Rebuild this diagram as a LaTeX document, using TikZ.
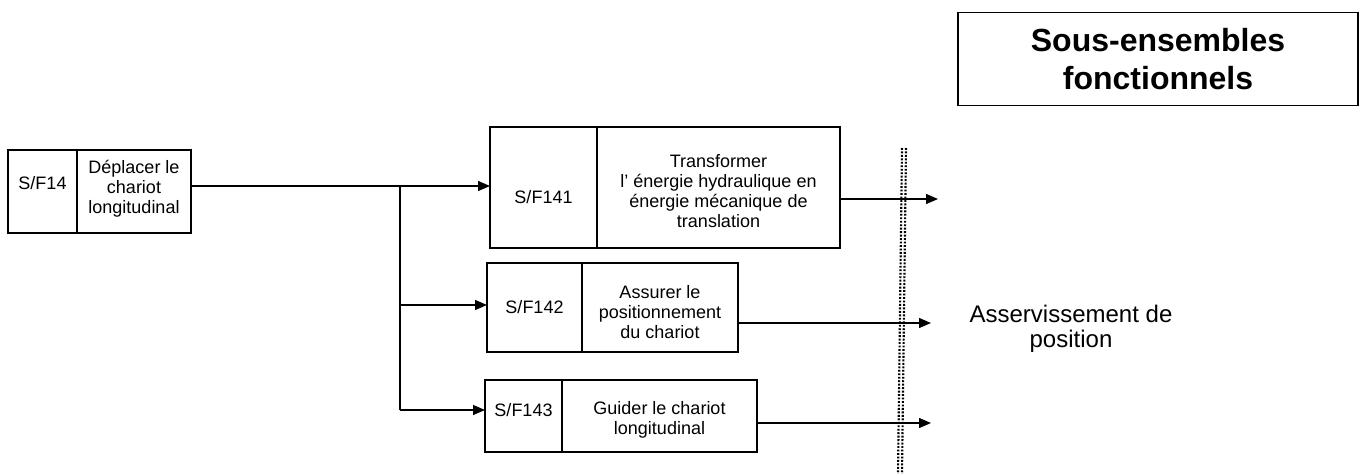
\documentclass[tikz,border=0pt]{standalone}
\usepackage{fontspec}
\setmainfont{Liberation Sans}
\usetikzlibrary{arrows.meta}
\begin{document}
\begin{tikzpicture}[x=0.75pt,y=-0.75pt,
  boxpart/.style={draw,line width=1.4pt,inner sep=0pt,outer sep=0pt,anchor=north west},
  boxtext/.style={align=center,inner sep=0pt,font=\fontsize{13.5}{15}\selectfont},
  conn/.style={line width=1pt},
  arr/.style={line width=1pt,-{Triangle[length=9pt,width=7.5pt]}},
  dotline/.style={line width=1.6pt,dash pattern=on 1.4pt off 1.2pt},
  txt/.style={align=center,inner sep=0pt}]
\useasboundingbox (0,0) rectangle (1362,474);
% S/F14
\node[boxpart,minimum width=51.75pt,minimum height=62.25pt] (b0l) at (8,150) {};
\node[boxpart,minimum width=85.5pt,minimum height=62.25pt] (b0t) at (77,150) {};
\node[boxtext,yshift=6pt] (t0l) at (b0l.center) {S/F14};
\node[boxtext,yshift=2pt] (t0t) at (b0t.center) {Déplacer le\\chariot\\longitudinal};
% S/F141
\node[boxpart,minimum width=80.25pt,minimum height=90.75pt] (b1l) at (490,127) {};
\node[boxpart,minimum width=182.25pt,minimum height=90.75pt] (b1t) at (597,127) {};
\node[boxtext,yshift=-7.5pt] (t1l) at (b1l.center) {S/F141};
\node[boxtext,yshift=-3pt] (t1t) at (b1t.center) {Transformer\\l' énergie hydraulique en\\énergie mécanique de\\translation};
% S/F142
\node[boxpart,minimum width=71.25pt,minimum height=66.75pt] (b2l) at (487,263) {};
\node[boxpart,minimum width=117pt,minimum height=66.75pt] (b2t) at (582,263) {};
\node[boxtext] (t2l) at (b2l.center) {S/F142};
\node[boxtext,yshift=-3.5pt] (t2t) at (b2t.center) {Assurer le\\positionnement\\du chariot};
% S/F143
\node[boxpart,minimum width=57.75pt,minimum height=54pt] (b3l) at (485,380) {};
\node[boxpart,minimum width=146.25pt,minimum height=54pt] (b3t) at (562,380) {};
\node[boxtext,yshift=4.5pt] (t3l) at (b3l.center) {S/F143};
\node[boxtext,yshift=-3pt] (t3t) at (b3t.center) {Guider le chariot\\longitudinal};
% title
\node[draw,line width=1pt,minimum width=300pt,minimum height=70pt,align=center,
  font=\fontsize{24}{29}\selectfont\bfseries] (title) at (1158,59) {Sous-ensembles\\fonctionnels};
\node[txt,font=\fontsize{18}{19}\selectfont] (asv) at (1071,329) {Asservissement de\\position};
% connectors
\coordinate (j1) at (400,186);
\coordinate (j2) at (400,305);
\coordinate (j3) at (400,410);
\draw[conn] (b0t.east |- j1) -- (j1);
\draw[arr] (j1) -- (b1l.west |- j1);
\draw[conn] (j1) -- (j3);
\draw[arr] (j2) -- (b2l.west |- j2);
\draw[arr] (j3) -- (b3l.west |- j3);
\coordinate (o1) at (938,199);
\coordinate (o2) at (931,323);
\coordinate (o3) at (931,423);
\draw[arr] (b1t.east |- o1) -- (o1);
\draw[arr] (b2t.east |- o2) -- (o2);
\draw[arr] (b3t.east |- o3) -- (o3);
% dotted boundary
\draw[dotline] (902,148) -- (898,474);
\draw[dotline] (906,148) -- (902,474);
\end{tikzpicture}
\end{document}
